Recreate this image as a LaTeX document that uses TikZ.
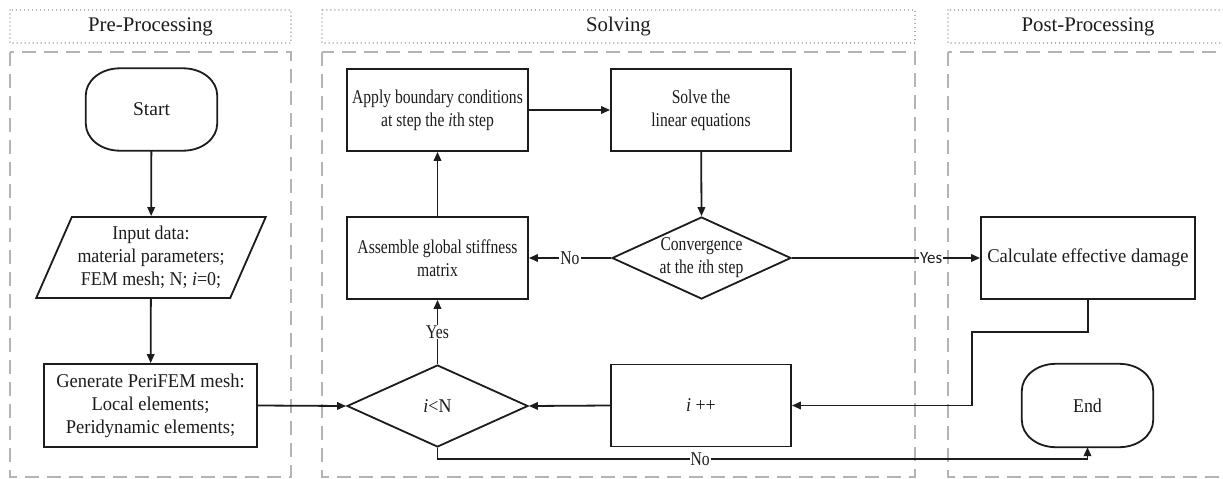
\documentclass[tikz,border=0pt]{standalone}
\usepackage{fontspec}
\setmainfont{Liberation Serif}
\newfontfamily\narrowfont{Liberation Serif}[FakeStretch=0.80]
\newfontfamily\midfont{Liberation Serif}[FakeStretch=0.92]
\newfontfamily\widefont{Liberation Serif}[FakeStretch=0.95]
\newfontfamily\yesfont{Carlito}
\usetikzlibrary{shapes.geometric,arrows.meta}
\definecolor{dashgray}{RGB}{180,180,182}
\definecolor{dotgray}{RGB}{165,165,168}
\definecolor{ink}{RGB}{28,28,28}
\newcommand\stadiumoutline[1]{%
  \draw[outline] ([xshift=34pt]#1.north west) -- ([xshift=-34pt]#1.north east)
    arc[start angle=90, end angle=0, x radius=34pt, y radius=27pt]
    -- ([yshift=27pt]#1.south east)
    arc[start angle=0, end angle=-90, x radius=34pt, y radius=27pt]
    -- ([xshift=34pt]#1.south west)
    arc[start angle=-90, end angle=-180, x radius=34pt, y radius=27pt]
    -- ([yshift=-27pt]#1.north west)
    arc[start angle=180, end angle=90, x radius=34pt, y radius=27pt] -- cycle;}
\begin{document}
\begin{tikzpicture}[x=1pt,y=-1pt,
  outline/.style={draw=ink, line width=1.8pt},
  nodetext/.style={text=ink, align=center, font=\narrowfont\fontsize{19.5}{23}\selectfont},
  midtext/.style={font=\midfont\fontsize{19.5}{23}\selectfont},
  widetext/.style={font=\widefont\fontsize{19.5}{23}\selectfont},
  fulltext/.style={font=\fontsize{19.5}{23}\selectfont},
  box/.style={outline, nodetext, rectangle, minimum width=181pt, minimum height=82pt, inner sep=2pt},
  term/.style={nodetext, rectangle, minimum width=131pt, minimum height=82pt, inner sep=2pt},
  decision/.style={outline, diamond, minimum width=180pt, minimum height=82pt, inner sep=0pt},
  para/.style={outline, nodetext, trapezium, trapezium left angle=63, trapezium right angle=117,
     trapezium stretches=true, minimum width=230pt, minimum height=81pt, inner sep=2pt},
  arr/.style={draw=ink, line width=1.8pt, -{Triangle[length=9pt,width=7.5pt]}},
  lbl/.style={fill=white, text=ink, inner sep=1pt, font=\narrowfont\fontsize{19.5}{23}\selectfont},
  sanslbl/.style={fill=white, text=ink, inner sep=1pt, font=\yesfont\fontsize{17}{20}\selectfont},
  titlebox/.style={draw=dotgray, line width=1.4pt, dash pattern=on 0.01pt off 4pt, line cap=round},
  lanebox/.style={draw=dashgray, line width=2.2pt, dash pattern=on 14pt off 8pt},
  titletext/.style={text=ink, font=\fontsize{20.8}{24}\selectfont}
]
\clip (0,0) rectangle (1223,479);
\fill[white] (0,0) rectangle (1223,479);

% lanes
\draw[titlebox] (10,10) rectangle (291,43);
\draw[titlebox] (322,10) rectangle (915,43);
\draw[titlebox] (948,10) rectangle (1229,43);
\node[titletext] (tpre) at (150.5,26.5) {Pre-Processing};
\node[titletext] (tsol) at (618.5,26.5) {Solving};
\node[titletext] (tpost) at (1088,26.5) {Post-Processing};
\draw[lanebox] (10,52) rectangle (291,477);
\draw[lanebox] (322,52) rectangle (915,477);
\draw[lanebox] (948,52) rectangle (1229,477);

% nodes
\node[term, fulltext] (start) at (151.5,109.5) {Start};
\stadiumoutline{start}
\node[para, midtext] (inp) at (151,257.5) {Input data:\\material parameters;\\FEM mesh; N; \textit{i}=0;};
\node[box, widetext, minimum width=213pt, minimum height=83pt] (gen) at (150.5,405.5) {Generate PeriFEM mesh:\\Local elements;\\Peridynamic elements;};

\node[box] (apply) at (437.5,110) {Apply boundary conditions\\at step the \textit{i}th step};
\node[box, minimum width=180pt] (solve) at (701,110) {Solve the\\linear equations};
\node[box] (assem) at (437.5,258) {Assemble global stiffness\\matrix};
\node[decision, minimum width=179pt] (conv) at (701.5,258) {};
\node[nodetext] (convtxt) at (conv) {Convergence\\at the \textit{i}th step};
\node[decision, minimum width=181pt] (ilt) at (437.5,406) {};
\node[nodetext, midtext] (ilttxt) at (ilt) {\textit{i}<N};
\node[box, midtext, minimum width=180pt] (ipp) at (701,405.5) {\textit{i} ++};

\node[box, widetext, minimum width=214pt] (calc) at (1088,258) {Calculate effective damage};
\node[term, midtext, minimum height=83pt] (end) at (1087.5,405.5) {End};
\stadiumoutline{end}

% connectors
\draw[arr] (start) -- (inp);
\draw[arr] (inp) -- (gen);
\draw[arr] (gen.east) -- (ilt.west);
\draw[arr] (ilt.north) -- node[lbl] {Yes} (assem.south);
\draw[arr] (assem) -- (apply);
\draw[arr] (apply) -- (solve);
\draw[arr] (solve) -- (conv.north);
\draw[arr] (conv.west) -- node[lbl] {No} (assem.east);
\draw[arr] (conv.east) -- node[sanslbl, pos=0.74] {Yes} (calc.west);
\coordinate (k1) at (972,332);
\draw[arr] (calc.south) |- (k1) |- (ipp.east);
\draw[arr] (ipp.west) -- (ilt.east);
\coordinate (k2) at (437.5,459);
\draw[arr] (ilt.south) -- (k2) -| node[lbl, pos=0.202] {No} (end.south);
\end{tikzpicture}
\end{document}
